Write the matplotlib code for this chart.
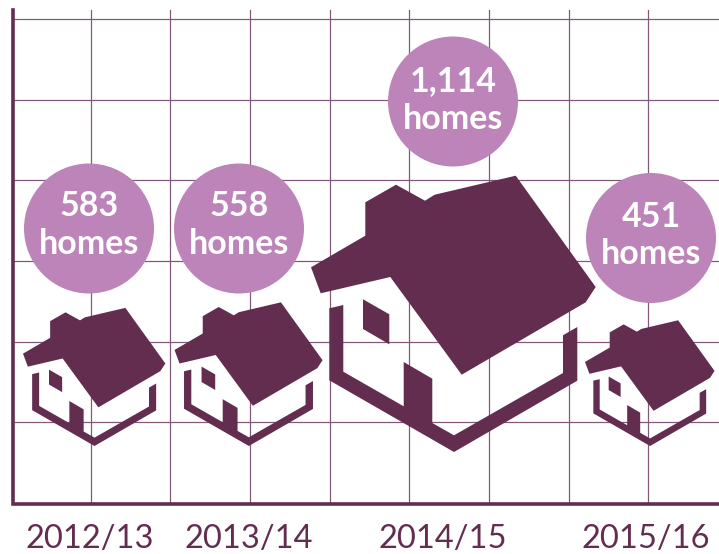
import matplotlib
matplotlib.use("Agg")
import matplotlib.pyplot as plt
from matplotlib.patches import Circle, Polygon

years = ['2012/13', '2013/14', '2014/15', '2015/16']
homes = ['583', '558', '1,114', '451']

DARK = '#632d50'
PINK = '#bc84b8'
GRID = '#84587a'

# layout in picture pixels, one entry per year
year_x = [90, 249, 443, 646]
circle_x = [89, 239, 453, 651]
circle_y = [228.5, 228.5, 101.5, 238]
count_base = [216, 216, 91, 227]
word_base = [254, 254, 129, 264]
house_left = [23, 174.5, 311, 585]
house_bottom = [446, 446, 452, 446]
house_scale = [0.5, 0.52, 1.0, 0.455]

grid_x = [91, 170, 250, 330, 409, 489, 569, 648]
grid_y = [19, 100, 180, 261, 342, 422]

# house outline, relative to the left and bottom of the large house
roof = [(0, -184.7), (54.3, -216.3), (54.3, -249.7), (85, -267.3), (114, -251.3),
        (123.7, -257.3), (204.7, -276.3), (284.7, -165), (274.7, -149.7),
        (150.7, -77.3), (79.3, -175), (9.7, -158.7)]
walls = [(18.3, -143.7), (32.3, -147), (32.3, -80.3), (92.7, -45.7), (92.7, -90),
         (121.3, -73.3), (121.3, -29), (143, -16.7), (252, -79), (252, -116.7),
         (266.3, -125), (266.3, -71.3), (143, 0), (18.3, -71.7)]
window = [(52, -152.7), (78.3, -137.7), (78.3, -107.7), (52, -123)]


def draw_house(ax, left, bottom, scale):
    """ Draw one house from its three outlines. """
    for shape in (roof, walls, window):
        pts = [(left + x * scale, bottom + y * scale) for x, y in shape]
        ax.add_patch(Polygon(pts, closed=True, fc=DARK, ec='none', zorder=3))


plt.rcParams['font.family'] = ['Lato', 'DejaVu Sans']
fig = plt.figure(figsize=(7.19, 5.54), dpi=100)
ax = fig.add_axes([0, 0, 1, 1])
ax.set_xlim(0, 719)
ax.set_ylim(554, 0)
ax.axis('off')

for x in grid_x:
    ax.plot([x, x], [10, 504], color=GRID, lw=0.9, zorder=1)
for y in grid_y:
    ax.plot([13, 719], [y, y], color=GRID, lw=0.9, zorder=1)
ax.plot([13, 13, 719], [10, 504, 504], color=DARK, lw=2.6, zorder=2,
        solid_joinstyle='miter')

for i, year in enumerate(years):
    draw_house(ax, house_left[i], house_bottom[i], house_scale[i])
    ax.add_patch(Circle((circle_x[i], circle_y[i]), 65, fc=PINK, ec='none', zorder=4))
    ax.text(circle_x[i], count_base[i], homes[i], color='white', fontsize=24.5,
            fontweight='bold', ha='center', va='baseline', zorder=5)
    ax.text(circle_x[i], word_base[i], 'homes', color='white', fontsize=24.5,
            fontweight='bold', ha='center', va='baseline', zorder=5)
    ax.text(year_x[i], 539, year, color=DARK, fontsize=23.5, ha='center', va='center')

fig.savefig('out.png', dpi=100)
